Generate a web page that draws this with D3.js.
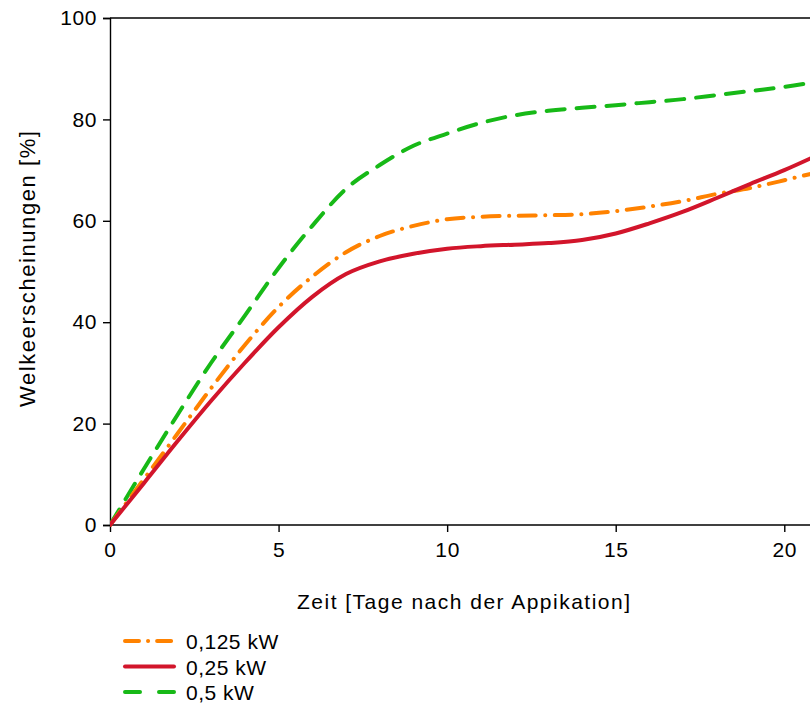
<!DOCTYPE html>
<html>
  <head>
    <meta charset="utf-8">
    <title>Welkeerscheinungen</title>
    <script src="https://d3js.org/d3.v7.min.js"></script>
    <style>
      body { margin: 0; background: #fff; }
      svg text { font-family: "Liberation Sans", Arial, sans-serif; fill: #000; }
    </style>
  </head>
  <body>
    <div id="chart"></div>

    <script>
      // Values (days after application, % wilting)
      var days = [0, 1, 2, 3, 4, 5, 6, 7, 8, 9, 10, 11, 12, 13, 14, 15, 16, 17, 18, 19, 20, 21];
      var kw0125 = [0, 9, 18, 27, 35.5, 43, 49, 53.8, 57, 59, 60.3, 60.8, 61, 61.1, 61.3, 61.9, 62.8, 63.9, 65.3, 66.5, 68, 69.6];
      var kw025 = [0, 8.2, 16.5, 24.5, 32, 39, 45, 49.5, 52, 53.5, 54.5, 55, 55.3, 55.6, 56.2, 57.5, 59.5, 61.8, 64.5, 67.3, 70, 73];
      var kw05 = [0, 11, 21.7, 32, 41.3, 50.7, 59, 66.3, 71, 74.8, 77.2, 79.3, 80.8, 81.7, 82.3, 82.8, 83.4, 84, 84.8, 85.6, 86.4, 87.5];
      var seriesNames = ["0,125 kW", "0,25 kW", "0,5 kW"];
      var xTicks = [0, 5, 10, 15, 20];
      var yTicks = [0, 20, 40, 60, 80, 100];

      var series = [
        {name: seriesNames[0], values: kw0125, color: "#ff8200", dash: "17,9.5,0.1,9.5"},
        {name: seriesNames[1], values: kw025, color: "#d2152b", dash: null},
        {name: seriesNames[2], values: kw05, color: "#17b917", dash: "18,12"}
      ];

      var width = 810, height = 706;
      var svg = d3.select("#chart").append("svg")
          .attr("width", width).attr("height", height);

      var x = d3.scaleLinear().domain([0, 21]).range([110, 818]);
      var y = d3.scaleLinear().domain([0, 100]).range([525, 18]);

      svg.append("clipPath").attr("id", "clip")
        .append("rect")
          .attr("x", x(0)).attr("y", y(100) - 5)
          .attr("width", x(21) - x(0)).attr("height", y(0) - y(100) + 10);

      // frame (top edge), then axes
      svg.append("line")
          .attr("x1", x(0)).attr("x2", x(21))
          .attr("y1", y(100)).attr("y2", y(100))
          .attr("stroke", "#000").attr("stroke-width", 1.4);

      var xAxis = svg.append("g")
          .attr("transform", "translate(0," + y(0) + ")")
          .call(d3.axisBottom(x).tickValues(xTicks).tickSize(7).tickPadding(10));
      var yAxis = svg.append("g")
          .attr("transform", "translate(" + x(0) + ",0)")
          .call(d3.axisLeft(y).tickValues(yTicks).tickSize(7).tickPadding(6));

      [xAxis, yAxis].forEach(function (g) {
        g.select(".domain").attr("stroke", "#000").attr("stroke-width", 1.4);
        g.selectAll(".tick line").attr("stroke", "#000").attr("stroke-width", 1.4);
        g.selectAll(".tick text").style("font-size", "21px")
          .style("letter-spacing", "0.6px")
          .style("font-family", "'Liberation Sans', Arial, sans-serif");
      });
      // extend the x axis line to the right edge
      xAxis.select(".domain").attr("d", "M" + x(0) + ",0H" + x(21));

      svg.append("text")
          .attr("x", 297).attr("y", 609)
          .attr("textLength", 333)
          .attr("lengthAdjust", "spacing")
          .style("font-size", "21px")
          .text("Zeit [Tage nach der Appikation]");

      svg.append("text")
          .attr("transform", "translate(35,407) rotate(-90)")
          .attr("textLength", 276)
          .attr("lengthAdjust", "spacing")
          .style("font-size", "22px")
          .text("Welkeerscheinungen [%]");

      var line = d3.line()
          .x(function (d, i) { return x(days[i]); })
          .y(function (d) { return y(d); })
          .curve(d3.curveMonotoneX);

      var plot = svg.append("g").attr("clip-path", "url(#clip)");
      // draw green first, red on top of orange like the original
      [series[2], series[0], series[1]].forEach(function (s) {
        plot.append("path")
            .attr("d", line(s.values))
            .attr("fill", "none")
            .attr("stroke", s.color)
            .attr("stroke-width", 4)
            .attr("stroke-linecap", "round")
            .attr("stroke-dasharray", s.dash);
      });

      // legend
      var legend = svg.append("g");
      series.forEach(function (s, i) {
        var ly = 641 + i * 25.5;
        legend.append("line")
            .attr("x1", 125).attr("x2", 174)
            .attr("y1", ly).attr("y2", ly)
            .attr("stroke", s.color)
            .attr("stroke-width", 4)
            .attr("stroke-linecap", "round")
            .attr("stroke-dasharray", s.dash ? (i === 0 ? "14,9,0.1,9" : "15,19") : null);
        legend.append("text")
            .attr("x", 186).attr("y", ly + 8)
            .style("font-size", "21px")
            .style("letter-spacing", "0.5px")
            .text(s.name);
      });
    </script>
  </body>
</html>
